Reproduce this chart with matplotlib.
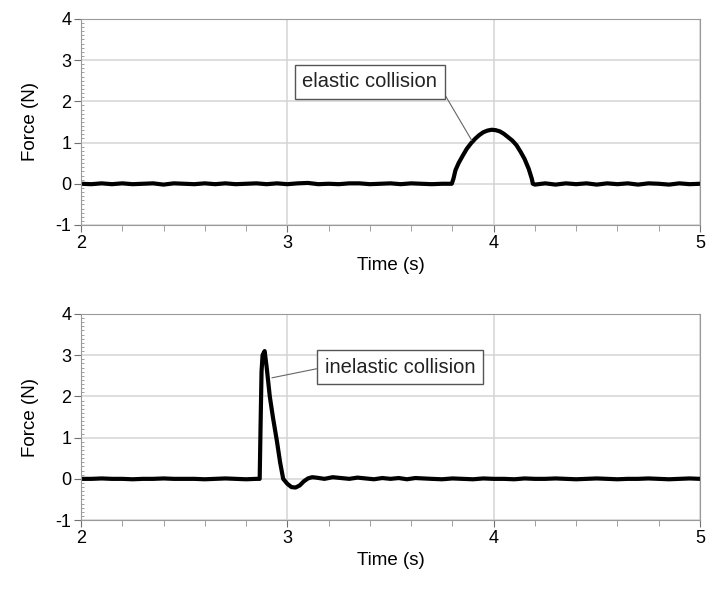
import matplotlib.pyplot as plt
from matplotlib.ticker import MultipleLocator

plt.rcParams['font.family'] = ['Liberation Sans', 'DejaVu Sans']
plt.rcParams['axes.unicode_minus'] = False

# elastic collision (top)
t_el = [2.00, 2.05, 2.10, 2.15, 2.20, 2.25, 2.30, 2.35, 2.40, 2.45, 2.50, 2.55,
        2.60, 2.65, 2.70, 2.75, 2.80, 2.85, 2.90, 2.95, 3.00, 3.05, 3.10, 3.15,
        3.20, 3.25, 3.30, 3.35, 3.40, 3.45, 3.50, 3.55, 3.60, 3.65, 3.70, 3.75,
        3.797, 3.805, 3.815, 3.83, 3.85, 3.87, 3.89, 3.91, 3.93, 3.95, 3.97, 3.99,
        4.01, 4.03, 4.05, 4.07, 4.09, 4.11, 4.13, 4.15, 4.17, 4.185, 4.19,
        4.20, 4.25, 4.30, 4.35, 4.40, 4.45, 4.50, 4.55, 4.60, 4.65, 4.70, 4.75,
        4.80, 4.85, 4.90, 4.95, 5.00]
f_el = [0.00, -0.01, 0.01, -0.01, 0.01, -0.01, 0.00, 0.01, -0.02, 0.01, 0.00, -0.01,
        0.01, -0.01, 0.01, -0.01, 0.00, 0.01, -0.01, 0.01, -0.01, 0.01, 0.02, -0.01,
        0.00, -0.01, 0.01, 0.01, -0.01, 0.00, 0.01, -0.01, 0.01, 0.00, -0.01, 0.00,
        0.00, 0.12, 0.33, 0.50, 0.68, 0.85, 0.98, 1.09, 1.18, 1.25, 1.29, 1.31,
        1.30, 1.27, 1.21, 1.13, 1.05, 0.94, 0.78, 0.60, 0.36, 0.12, 0.00,
        -0.02, 0.01, -0.02, 0.01, -0.01, 0.01, -0.02, 0.01, -0.01, 0.01, -0.02, 0.01,
        0.00, -0.02, 0.01, -0.01, 0.00]

# inelastic collision (bottom)
t_in = [2.00, 2.05, 2.10, 2.15, 2.20, 2.25, 2.30, 2.35, 2.40, 2.45, 2.50, 2.55,
        2.60, 2.65, 2.70, 2.75, 2.80, 2.85,
        2.866, 2.870, 2.875, 2.880, 2.890, 2.900, 2.915, 2.930, 2.950, 2.965,
        2.980, 3.000, 3.020, 3.040, 3.060, 3.080, 3.100, 3.120, 3.140,
        3.18, 3.22, 3.26, 3.30, 3.34, 3.38, 3.42, 3.46, 3.50, 3.54, 3.58, 3.62,
        3.66, 3.70, 3.75, 3.80, 3.85, 3.90, 3.95, 4.00, 4.05, 4.10, 4.15, 4.20,
        4.25, 4.30, 4.35, 4.40, 4.45, 4.50, 4.55, 4.60, 4.65, 4.70, 4.75, 4.80,
        4.85, 4.90, 4.95, 5.00]
f_in = [0.00, 0.00, 0.01, 0.00, 0.00, -0.01, 0.00, 0.00, 0.01, 0.00, 0.00, 0.00,
        -0.01, 0.00, 0.01, 0.00, -0.01, 0.00,
        0.00, 1.20, 2.60, 3.00, 3.10, 2.70, 2.00, 1.50, 0.90, 0.40,
        0.00, -0.12, -0.20, -0.21, -0.16, -0.06, 0.01, 0.04, 0.03,
        0.00, 0.04, 0.02, 0.00, 0.03, 0.01, -0.01, 0.02, 0.00, 0.02, -0.01, 0.02,
        0.01, 0.00, -0.01, 0.01, 0.00, -0.01, 0.01, 0.00, 0.00, -0.01, 0.01, 0.00,
        0.00, 0.01, 0.00, -0.01, 0.00, 0.01, 0.00, -0.01, 0.00, 0.00, 0.01, 0.00,
        -0.01, 0.00, 0.01, 0.00]

panels = [
    (t_el, f_el, 'elastic collision', (3.40, 2.47), (3.894, 1.05), (1, 0.5),
     [0.1125, 0.618, 0.8597, 0.350]),
    (t_in, f_in, 'inelastic collision', (3.546, 2.71), (2.925, 2.45), (0, 0.5),
     [0.1125, 0.117, 0.8597, 0.350]),
]

fig = plt.figure(figsize=(7.2, 5.89), dpi=100)

for t, f, label, txt_xy, pt_xy, rel, pos in panels:
    ax = fig.add_axes(pos)
    ax.plot(t, f, color='black', lw=3.0, solid_joinstyle='round')
    ax.set_xlim(2, 5)
    ax.set_ylim(-1, 4)
    ax.xaxis.set_major_locator(MultipleLocator(1))
    ax.xaxis.set_minor_locator(MultipleLocator(0.2))
    ax.yaxis.set_major_locator(MultipleLocator(1))
    ax.yaxis.set_minor_locator(MultipleLocator(0.1))
    ax.grid(True, which='major', color='#d4d4d4', lw=1.1)
    ax.set_axisbelow(True)
    for s in ax.spines.values():
        s.set_color('#9a9a9a')
    ax.tick_params(which='major', direction='out', length=5, color='#707070',
                   labelsize=13, pad=2)
    ax.tick_params(axis='y', which='minor', direction='in', length=2.5,
                   color='#909090')
    ax.tick_params(axis='x', which='minor', direction='out', length=4,
                   color='#909090')
    ax.set_xlabel('Time (s)', fontsize=13.5, labelpad=4)
    ax.set_ylabel('Force (N)', fontsize=13.5, labelpad=12)
    ax.annotate(label, xy=pt_xy, xytext=txt_xy, ha='center', va='center',
                fontsize=14.5, color='#222222',
                bbox=dict(boxstyle='square,pad=0.38', fc='white', ec='#555555', lw=1),
                arrowprops=dict(arrowstyle='-', color='#666666', lw=0.8,
                                relpos=rel, shrinkA=0, shrinkB=0))

fig.savefig('out.png', dpi=100)
